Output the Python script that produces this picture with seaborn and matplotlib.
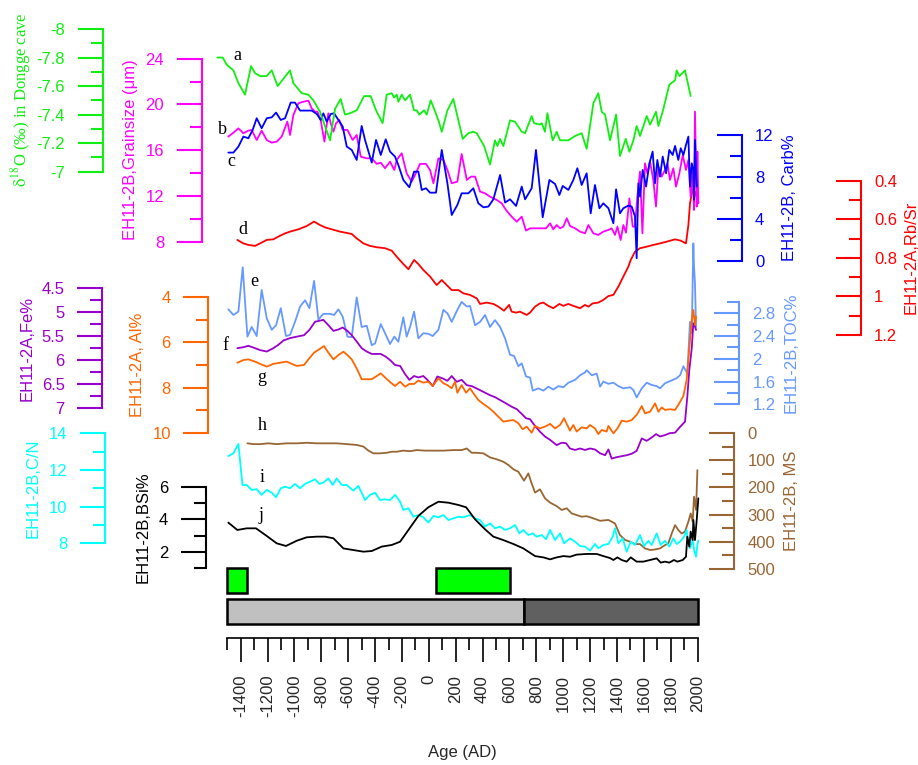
import numpy as np
import pandas as pd
import matplotlib
matplotlib.use("Agg")
import matplotlib.pyplot as plt
import seaborn as sns
from matplotlib.ticker import FixedLocator, FixedFormatter

sns.set_theme(style="white")
plt.rcParams['font.family'] = ['Liberation Sans', 'DejaVu Sans']
plt.rcParams['axes.unicode_minus'] = False
plt.rcParams['mathtext.fontset'] = 'stix'

# ---------------- data ----------------
green_year = [-1574,-1534,-1504,-1454,-1417,-1368,-1323,-1293,-1256,-1207,
              -1169,-1125,-1033,-1008,-946,-897,-859,-810,-773,-735,
              -698,-656,-624,-587,-537,-482,-433,-393,-344,-314,
              -276,-259,-239,-227,-202,-177,-140,-110,-90,-71,
              -36,-16,14,39,71,96,138,182,212,252,
              294,331,356,411,455,492,510,530,554,574,
              604,641,691,716,765,783,827,840,864,882,
              921,951,976,1038,1088,1137,1174,1224,1261,1286,
              1311,1348,1393,1422,1465,1492,1522,1546,1571,1621,
              1646,1690,1708,1745,1789,1832,1844,1864,1906,1948]
green_d18o = [-7.80,-7.80,-7.75,-7.71,-7.62,-7.54,-7.74,-7.69,-7.67,-7.67,
              -7.71,-7.60,-7.71,-7.62,-7.55,-7.54,-7.50,-7.42,-7.32,-7.22,
              -7.44,-7.51,-7.40,-7.41,-7.43,-7.53,-7.53,-7.43,-7.34,-7.54,
              -7.55,-7.52,-7.54,-7.49,-7.54,-7.50,-7.54,-7.43,-7.43,-7.40,
              -7.43,-7.40,-7.50,-7.44,-7.36,-7.28,-7.43,-7.51,-7.39,-7.23,
              -7.27,-7.28,-7.27,-7.18,-7.05,-7.22,-7.18,-7.23,-7.18,-7.25,
              -7.36,-7.35,-7.28,-7.27,-7.39,-7.34,-7.33,-7.34,-7.28,-7.41,
              -7.22,-7.28,-7.22,-7.22,-7.25,-7.27,-7.16,-7.48,-7.55,-7.42,
              -7.40,-7.22,-7.40,-7.11,-7.23,-7.14,-7.22,-7.32,-7.25,-7.39,
              -7.33,-7.42,-7.32,-7.44,-7.61,-7.64,-7.71,-7.67,-7.71,-7.53]

grain_year = [-1492,-1454,-1417,-1380,-1343,-1318,-1281,-1244,-1206,-1169,
              -1132,-1095,-1053,-1033,-1008,-971,-934,-896,-872,-847,
              -829,-805,-777,-748,-730,-710,-691,-666,-641,-606,
              -567,-537,-507,-462,-425,-388,-358,-326,-289,-257,
              -239,-202,-165,-128,-103,-66,-21,9,34,71,
              108,138,170,212,244,282,314,344,381,418,
              455,505,542,574,616,654,691,723,753,790,
              827,872,902,926,951,976,1001,1026,1050,1088,
              1125,1162,1187,1224,1261,1298,1336,1360,1385,1403,
              1427,1447,1467,1492,1517,1534,1551,1571,1589,1608,
              1626,1646,1670,1690,1708,1732,1757,1775,1794,1819,
              1839,1864,1889,1913,1931,1948,1963,1973,1980,1993,
              1998,2005]
grain_um = [17.19,17.53,17.91,17.48,17.71,17.77,16.89,17.71,16.89,16.66,
            16.75,17.19,18.50,17.33,19.08,20.10,20.24,20.33,19.66,19.37,
            19.37,18.64,16.75,19.23,18.35,17.62,18.35,18.64,17.77,17.77,
            16.89,17.33,15.44,15.29,15.29,14.80,14.91,14.42,15.00,14.27,
            15.15,15.73,13.98,13.25,13.83,14.80,14.80,14.27,13.11,15.29,
            15.15,14.27,13.11,13.25,15.67,13.40,13.69,13.69,12.38,12.23,
            11.94,11.65,11.36,10.77,10.19,9.75,10.19,8.97,9.17,9.17,
            9.17,9.17,9.61,9.08,9.46,9.17,9.32,10.05,9.38,9.17,
            8.88,8.73,9.46,8.73,8.59,8.88,9.03,9.17,8.59,9.32,
            8.15,9.46,8.79,11.79,9.32,9.32,11.94,14.13,8.73,14.85,
            13.98,15.00,13.40,11.07,14.56,13.69,14.27,14.85,13.40,14.42,
            12.81,13.98,15.58,14.27,15.15,11.94,14.27,10.77,19.37,11.07,
            15.87,11.36]

carb_year = [-1492,-1454,-1417,-1380,-1343,-1311,-1281,-1244,-1206,-1169,
             -1137,-1102,-1070,-1028,-996,-958,-909,-872,-834,-805,
             -785,-760,-730,-705,-673,-641,-611,-574,-537,-500,
             -475,-425,-393,-358,-321,-289,-252,-227,-190,-145,
             -110,-78,-53,-21,9,53,96,138,170,212,
             244,294,331,368,406,443,480,530,567,604,
             649,691,716,765,797,847,897,939,971,996,
             1038,1075,1105,1137,1174,1204,1236,1269,1298,1336,
             1373,1393,1422,1447,1484,1509,1534,1546,1559,1571,
             1591,1616,1641,1665,1683,1700,1720,1740,1765,1789,
             1814,1832,1856,1874,1894,1913,1931,1943,1956,1968,
             1973,1980,1993]
carb_pct = [10.33,10.33,10.90,11.85,11.69,12.48,13.59,12.64,13.59,13.68,
            14.13,13.43,13.59,15.08,15.08,14.32,14.32,14.32,14.00,13.43,
            14.06,13.27,14.00,14.06,13.43,12.80,10.90,10.58,9.63,12.86,
            11.53,9.38,11.53,10.10,11.59,10.42,9.95,9.15,7.73,7.03,
            8.52,8.52,6.78,6.94,6.52,6.52,10.58,7.41,4.40,5.35,
            6.46,6.46,6.94,5.51,5.13,5.20,5.89,8.20,5.58,5.89,
            5.26,7.10,5.89,6.94,10.58,4.18,7.73,7.35,6.30,7.16,
            6.78,7.73,8.84,7.25,8.36,4.56,7.25,5.04,5.51,5.04,
            3.61,6.84,4.56,5.04,5.29,5.20,4.25,0.29,7.41,6.15,
            8.68,7.10,9.31,10.42,7.41,9.63,8.05,9.95,8.36,10.58,
            10.10,10.96,9.63,10.74,10.10,11.05,11.85,7.10,9.31,8.68,
            5.83,11.53,7.10]

rbsr_year = [-1425,-1380,-1343,-1293,-1256,-1206,-1157,-1120,-1070,-1033,
             -971,-909,-854,-810,-772,-723,-661,-574,-537,-487,
             -438,-388,-326,-276,-239,-190,-152,-110,-78,-41,
             9,58,96,133,170,220,257,306,356,381,
             430,480,517,559,597,616,649,678,728,753,
             790,827,852,889,926,971,1001,1038,1075,1125,
             1162,1187,1219,1261,1298,1336,1373,1410,1447,1484,
             1502,1534,1571,1621,1670,1720,1770,1832,1874,1913,
             1931,1943,1963,1980,1998,2005]
rbsr = [0.707,0.725,0.733,0.738,0.725,0.707,0.704,0.690,0.673,0.664,
        0.652,0.635,0.612,0.630,0.642,0.652,0.664,0.676,0.699,0.725,
        0.738,0.745,0.750,0.763,0.794,0.832,0.859,0.811,0.832,0.863,
        0.897,0.941,0.915,0.941,0.967,0.967,0.984,0.992,1.010,1.039,
        1.032,1.039,1.053,1.074,1.044,1.079,1.084,1.079,1.096,1.084,
        1.053,1.036,1.032,1.049,1.061,1.039,1.049,1.039,1.049,1.061,
        1.044,1.053,1.036,1.032,1.018,0.998,0.992,0.949,0.897,0.846,
        0.811,0.768,0.750,0.742,0.733,0.725,0.716,0.704,0.711,0.725,
        0.630,0.517,0.445,0.457,0.500,0.483]

toc_year = [-1492,-1454,-1417,-1385,-1350,-1318,-1281,-1244,-1206,-1169,
            -1137,-1102,-1063,-1033,-996,-958,-921,-889,-854,-822,
            -785,-735,-705,-673,-641,-606,-574,-537,-500,-462,
            -425,-400,-358,-326,-289,-257,-227,-190,-165,-140,
            -110,-78,-41,-4,29,71,108,138,170,212,
            244,282,306,344,381,418,455,492,530,567,
            604,634,666,691,723,753,773,815,852,889,
            926,964,1001,1038,1088,1125,1162,1174,1212,1249,
            1274,1298,1336,1373,1410,1447,1497,1522,1546,1584,
            1621,1658,1695,1720,1757,1807,1844,1869,1894,1923,
            1943,1956,1968,1973,1980,1988]
toc_pct = [2.87,2.77,2.83,3.61,2.39,2.56,2.40,3.21,2.71,2.51,
           2.59,2.89,2.40,2.42,2.65,2.92,3.03,2.89,3.37,2.69,
           2.79,2.79,2.77,2.87,2.74,2.39,2.38,3.08,2.56,2.58,
           2.24,2.27,2.61,2.45,2.26,2.39,2.30,2.73,2.39,2.56,
           2.83,2.36,2.45,2.44,2.40,2.51,2.86,2.80,2.65,2.86,
           3.00,2.92,2.93,2.59,2.65,2.77,2.56,2.68,2.56,2.36,
           2.07,2.05,1.87,1.92,1.69,1.67,1.44,1.48,1.44,1.51,
           1.46,1.52,1.50,1.58,1.63,1.71,1.76,1.80,1.71,1.74,
           1.51,1.60,1.56,1.58,1.52,1.48,1.50,1.45,1.32,1.48,
           1.58,1.54,1.52,1.48,1.57,1.62,1.66,1.71,1.87,1.74,
           2.65,2.45,4.03,3.62,3.33,2.56]

fe_year = [-1425,-1380,-1343,-1293,-1256,-1206,-1157,-1120,-1082,-1033,
           -983,-929,-889,-847,-785,-748,-710,-673,-641,-606,
           -574,-537,-500,-462,-425,-393,-358,-319,-284,-252,
           -214,-177,-145,-110,-78,-41,-4,29,63,103,
           138,170,207,244,282,319,356,406,455,492,
           530,574,616,654,691,723,753,790,827,864,
           902,951,988,1021,1050,1088,1125,1162,1199,1236,
           1274,1311,1336,1360,1398,1435,1472,1509,1546,1584,
           1621,1658,1690,1720,1757,1794,1832,1869,1906,1923,
           1938,1956,1968,1980,1988]
fe_pct = [5.76,5.74,5.71,5.76,5.80,5.83,5.76,5.69,5.60,5.55,
          5.52,5.49,5.38,5.21,5.17,5.28,5.40,5.37,5.33,5.40,
          5.49,5.62,5.76,5.83,5.88,5.88,5.88,5.94,6.02,6.11,
          6.13,6.30,6.42,6.34,6.37,6.34,6.44,6.55,6.35,6.39,
          6.44,6.34,6.46,6.42,6.53,6.55,6.60,6.67,6.74,6.78,
          6.84,6.91,6.98,7.03,7.13,7.22,7.24,7.38,7.50,7.60,
          7.67,7.78,7.73,7.74,7.85,7.88,7.85,7.88,7.85,7.87,
          7.95,7.99,7.87,8.06,8.03,8.01,7.99,7.96,7.90,7.64,
          7.69,7.62,7.55,7.60,7.57,7.53,7.52,7.40,7.29,6.77,
          6.21,5.76,5.24,5.31,5.38]

al_year = [-1425,-1380,-1343,-1293,-1256,-1206,-1157,-1107,-1058,-1020,
           -983,-929,-889,-854,-822,-780,-748,-710,-673,-636,
           -606,-574,-537,-500,-462,-425,-388,-358,-319,-284,
           -252,-214,-177,-145,-110,-78,-41,-4,29,71,
           108,138,170,195,212,244,277,306,331,368,
           406,443,480,517,554,592,629,666,698,728,
           765,790,827,864,902,939,976,1006,1050,1075,
           1100,1137,1174,1199,1236,1261,1286,1323,1336,1373,
           1403,1435,1472,1509,1546,1584,1608,1646,1683,1708,
           1732,1757,1794,1832,1856,1894,1918,1938,1956,1968,
           1980,1988]
al_pct = [6.90,6.78,6.75,6.85,6.95,7.07,6.95,6.90,6.85,6.95,
          7.04,7.00,6.70,6.45,6.33,6.16,6.45,6.75,6.56,6.41,
          6.56,6.75,7.15,7.63,7.63,7.63,7.49,7.37,7.59,7.78,
          7.93,7.74,7.96,7.84,7.84,7.69,7.78,7.74,7.93,7.59,
          7.81,7.89,8.03,7.74,8.23,7.89,8.23,8.03,8.25,8.55,
          8.73,8.88,9.07,9.29,9.51,9.47,9.44,9.58,9.85,9.73,
          10.00,9.70,9.81,9.73,9.61,9.81,9.66,9.36,9.91,9.66,
          9.95,9.76,9.81,9.66,9.81,10.06,9.88,9.95,9.70,10.03,
          9.81,9.47,9.51,9.44,9.21,8.82,9.14,9.07,8.70,9.07,
          8.88,8.99,8.96,8.99,8.77,8.37,7.66,6.26,5.01,4.56,
          5.23,4.86]

ms_year = [-1350,-1306,-1256,-1194,-1132,-1058,-983,-909,-834,-760,
           -686,-611,-537,-487,-450,-413,-363,-314,-276,-239,
           -190,-140,-90,-28,34,108,182,244,282,319,
           356,406,455,505,554,592,629,666,708,740,
           765,790,827,864,902,951,988,1026,1063,1100,
           1137,1174,1224,1274,1336,1385,1422,1460,1497,1534,
           1571,1608,1646,1683,1720,1757,1782,1807,1832,1856,
           1881,1906,1931,1948,1963,1973,1988,1998]
ms = [37,40,40,37,40,37,37,35,37,37,
      37,40,43,49,64,74,74,72,68,68,
      64,66,62,64,64,64,62,62,56,72,
      72,74,89,96,105,117,133,142,175,148,
      185,219,207,240,256,269,283,277,296,302,
      308,306,314,323,320,333,376,394,400,409,
      409,425,431,429,425,413,406,370,339,357,
      370,363,326,296,326,234,283,136]

cn_year = [-1492,-1454,-1417,-1387,-1355,-1318,-1281,-1244,-1206,-1169,
           -1137,-1102,-1070,-1033,-996,-958,-921,-884,-847,-815,
           -785,-748,-715,-686,-648,-611,-562,-524,-475,-438,
           -400,-363,-326,-289,-252,-214,-190,-152,-115,-78,
           -41,-4,34,71,108,145,182,220,257,306,
           344,381,418,455,492,530,567,604,641,673,
           703,740,773,802,840,872,902,939,976,1006,
           1050,1088,1125,1162,1199,1236,1261,1298,1336,1368,
           1385,1410,1442,1472,1502,1534,1571,1601,1633,1658,
           1695,1725,1757,1789,1819,1844,1869,1899,1918,1931,
           1943,1963,1973,1988,1998,2005]
cn_ratio = [12.76,12.91,13.42,11.18,11.18,10.91,10.95,10.64,10.91,10.76,
            10.51,11.00,11.09,11.00,11.24,11.00,11.24,11.36,11.49,11.24,
            11.31,11.54,11.18,11.54,11.18,11.18,10.87,11.13,10.36,10.64,
            10.76,10.36,10.40,10.36,10.64,10.27,9.82,9.91,9.45,9.54,
            9.42,9.13,9.49,9.42,9.54,9.27,9.36,9.45,9.42,9.54,
            9.36,9.27,8.91,9.09,8.82,8.91,8.73,8.82,9.00,8.54,
            8.73,8.45,8.54,8.36,8.45,8.22,8.73,8.18,8.54,8.00,
            8.27,8.09,7.85,7.82,7.60,7.96,7.73,7.91,7.96,8.36,
            8.82,8.00,8.27,7.54,8.09,7.91,8.45,7.85,8.14,7.91,
            8.54,7.91,8.14,7.82,8.27,7.96,8.09,8.36,8.73,7.91,
            7.73,8.18,7.64,7.27,7.91,8.14]

bsi_year = [-1492,-1425,-1355,-1286,-1206,-1132,-1063,-983,-909,-834,
            -772,-710,-636,-562,-487,-425,-351,-276,-214,-152,
            -78,-4,71,145,220,277,344,418,480,554,
            629,703,790,852,902,951,1001,1050,1100,1174,
            1249,1298,1348,1373,1403,1435,1472,1502,1546,1596,
            1646,1695,1725,1757,1789,1824,1849,1889,1913,1923,
            1938,1948,1963,1968,1980,1993,2005]
bsi_pct = [3.80,3.35,3.45,3.45,2.98,2.53,2.37,2.69,2.90,2.94,
           2.94,2.84,2.22,2.12,2.02,2.06,2.33,2.43,2.63,3.35,
           4.21,4.74,5.08,5.02,4.88,4.74,4.00,3.39,2.94,2.73,
           2.49,2.22,1.75,1.67,1.55,1.67,1.75,1.71,1.84,1.88,
           1.88,1.75,1.63,1.51,1.67,1.51,1.41,1.67,1.41,1.41,
           1.51,1.61,1.35,1.41,1.35,1.51,1.41,1.51,1.71,2.94,
           2.33,3.25,2.73,3.96,2.73,3.96,5.29]

# period bars
green_start = [-1500, 50]
green_end = [-1355, 600]
phase_start = [-1500, 710]
phase_end = [710, 2000]

x_major = list(range(-1400, 2001, 200))
x_minor = list(range(-1500, 2000, 200))

# ---------------- layout ----------------
W, H = 918, 765
fig = plt.figure(figsize=(9.18, 7.65), dpi=100)
XL, XR = -1600, 2100
PL = 240.7 + (XL + 1400) * 0.1344
PR = 240.7 + (XR + 1400) * 0.1344
RECT = [PL / W, 0, (PR - PL) / W, 1]

def fx(x):
    return x / W

def fy(y):
    return 1 - y / H

ax0 = fig.add_axes(RECT)
ax0.patch.set_visible(False)
ax0.set_xlim(XL, XR)
ax0.set_ylim(H, 0)
for s in ['left', 'right', 'top']:
    ax0.spines[s].set_visible(False)
ax0.spines['bottom'].set_position(('data', 638))
ax0.spines['bottom'].set_bounds(-1500, 2000)
ax0.spines['bottom'].set_color('black')
ax0.spines['bottom'].set_linewidth(1.2)
ax0.xaxis.set_major_locator(FixedLocator(x_major))
ax0.xaxis.set_major_formatter(FixedFormatter([str(v) for v in x_major]))
ax0.xaxis.set_minor_locator(FixedLocator(x_minor))
ax0.tick_params(axis='x', which='major', direction='out', length=17.5, width=1.2,
                color='black', labelsize=12, pad=9, labelrotation=90, bottom=True)
ax0.tick_params(axis='x', which='minor', direction='out', length=8.6, width=1.2,
                color='black', bottom=True)
ax0.tick_params(axis='y', left=False, labelleft=False)
ax0.grid(False)

# bars
ax0.barh(y=[580.5] * len(green_start), width=np.subtract(green_end, green_start),
         left=green_start, height=25, color='#00FF00', edgecolor='black', linewidth=1.8)
ax0.barh(y=[611.5] * len(phase_start), width=np.subtract(phase_end, phase_start),
         left=phase_start, height=25, color=['#C0C0C0', '#606060'],
         edgecolor='black', linewidth=1.8)

fig.text(fx(462), fy(752), 'Age (AD)', ha='center', va='center', fontsize=12)


def make_axis(years, vals, color, cal, side, spine_px, majors, minors, ticklabels):
    ax = fig.add_axes(RECT, sharex=ax0)
    ax.patch.set_visible(False)
    ax.grid(False)
    (v1, p1), (v2, p2) = cal
    s = (v2 - v1) / (p2 - p1)
    ax.set_ylim(v1 + (H - p1) * s, v1 + (0 - p1) * s)
    for sp in ax.spines.values():
        sp.set_visible(False)
    sp = ax.spines[side]
    sp.set_visible(True)
    sp.set_color(color)
    sp.set_linewidth(1.5)
    sp.set_position(('axes', (spine_px - PL) / (PR - PL)))
    allt = list(majors) + list(minors)
    sp.set_bounds(min(allt), max(allt))
    if side == 'left':
        ax.yaxis.tick_left()
    else:
        ax.yaxis.tick_right()
    ax.yaxis.set_major_locator(FixedLocator(majors))
    ax.yaxis.set_major_formatter(FixedFormatter(ticklabels))
    ax.yaxis.set_minor_locator(FixedLocator(minors))
    direction = 'out' if side == 'left' else 'in'
    pad = 9 if side == 'left' else 9.5
    ax.tick_params(axis='y', which='major', direction=direction, length=18, width=1.5,
                   color=color, labelcolor=color, labelsize=12, pad=pad)
    ax.tick_params(axis='y', which='minor', direction=direction, length=9, width=1.5,
                   color=color)
    ax.tick_params(axis='x', which='both', bottom=False, top=False,
                   labelbottom=False, labeltop=False)
    df = pd.DataFrame({'year': years, 'value': vals})
    sns.lineplot(data=df, x='year', y='value', color=color, linewidth=1.3, ax=ax,
                 estimator=None, sort=False)
    ax.set_xlabel('')
    ax.set_ylabel('')
    return ax


GREEN = '#11EE11'
MAG = '#FF00FF'
BLUE = '#0000FF'
RED = '#FF0000'
PURPLE = '#9900CC'
ORANGE = '#FF6600'
LBLUE = '#6699FF'
CYAN = '#00FFFF'
BROWN = '#996633'
BLACK = '#000000'

# order: lower panels first so upper curves sit on top
make_axis(ms_year, ms, BROWN, ((0, 433.3), (500, 568.7)), 'right', 734.3,
          [0, 100, 200, 300, 400, 500], [50, 150, 250, 350, 450],
          ['0', '100', '200', '300', '400', '500'])
make_axis(cn_year, cn_ratio, CYAN, ((14, 433.3), (8, 543.3)), 'left', 105,
          [8, 10, 12, 14], [9, 11, 13], ['8', '10', '12', '14'])
make_axis(bsi_year, bsi_pct, BLACK, ((6, 486.7), (2, 552)), 'left', 205.7,
          [2, 4, 6], [1, 3, 5], ['2', '4', '6'])
make_axis(toc_year, toc_pct, LBLUE, ((2.8, 313.3), (1.2, 404.3)), 'right', 739.3,
          [1.2, 1.6, 2.0, 2.4, 2.8], [1.4, 1.8, 2.2, 2.6, 3.0],
          ['1.2', '1.6', '2', '2.4', '2.8'])
make_axis(fe_year, fe_pct, PURPLE, ((4.5, 287.7), (7, 407.7)), 'left', 102.3,
          [4.5, 5, 5.5, 6, 6.5, 7], [4.75, 5.25, 5.75, 6.25, 6.75],
          ['4.5', '5', '5.5', '6', '6.5', '7'])
make_axis(al_year, al_pct, ORANGE, ((4, 297.3), (10, 432.7)), 'left', 208.3,
          [4, 6, 8, 10], [5, 7, 9], ['4', '6', '8', '10'])
make_axis(rbsr_year, rbsr, RED, ((0.4, 180.7), (1.2, 335)), 'right', 861,
          [0.4, 0.6, 0.8, 1.0, 1.2], [0.5, 0.7, 0.9, 1.1],
          ['0.4', '0.6', '0.8', '1', '1.2'])
make_axis(grain_year, grain_um, MAG, ((24, 58.7), (8, 241.7)), 'left', 201.7,
          [8, 12, 16, 20, 24], [10, 14, 18, 22], ['8', '12', '16', '20', '24'])
make_axis(carb_year, carb_pct, BLUE, ((12, 135), (0, 261.3)), 'right', 741.7,
          [0, 4, 8, 12], [2, 6, 10], ['0', '4', '8', '12'])
make_axis(green_year, green_d18o, GREEN, ((-8, 29), (-7, 171.7)), 'left', 102.7,
          [-8, -7.8, -7.6, -7.4, -7.2, -7], [-7.9, -7.7, -7.5, -7.3, -7.1],
          ['-8', '-7.8', '-7.6', '-7.4', '-7.2', '-7'])

# axis titles
lab = dict(rotation=90, ha='center', va='center', fontsize=12)
fig.text(fx(21), fy(100), r'$\mathrm{\delta^{18}}$O (‰) in Dongge cave', color=GREEN,
         family=['Liberation Serif', 'DejaVu Serif'], **lab)
fig.text(fx(130), fy(150), 'EH11-2B,Grainsize (μm)', color=MAG, **lab)
fig.text(fx(789), fy(198), 'EH11-2B, Carb%', color=BLUE, **lab)
fig.text(fx(911), fy(257), 'EH11-2A,Rb/Sr', color=RED, **lab)
fig.text(fx(27), fy(348), 'EH11-2A,Fe%', color=PURPLE, **lab)
fig.text(fx(137), fy(365), 'EH11-2A, Al%', color=ORANGE, **lab)
fig.text(fx(791.5), fy(353), 'EH11-2B,TOC%', color=LBLUE, **lab)
fig.text(fx(33), fy(488), 'EH11-2B,C/N', color=CYAN, **lab)
fig.text(fx(143), fy(527), 'EH11-2B,BSi%', color=BLACK, **lab)
fig.text(fx(791.5), fy(501), 'EH11-2B, MS', color=BROWN, **lab)

# curve letters
letters = ['a', 'b', 'c', 'd', 'e', 'f', 'g', 'h', 'i', 'j']
letter_pos = [(237, 55), (222, 129), (231, 162), (243, 230), (254, 282),
              (225, 346), (262, 378), (262, 426), (262, 477), (261, 516)]
for t, (x, y) in zip(letters, letter_pos):
    fig.text(fx(x), fy(y), t, ha='center', va='center', fontsize=13,
             family=['Liberation Serif', 'DejaVu Serif'], color='black')

fig.savefig('out.png', dpi=100)
